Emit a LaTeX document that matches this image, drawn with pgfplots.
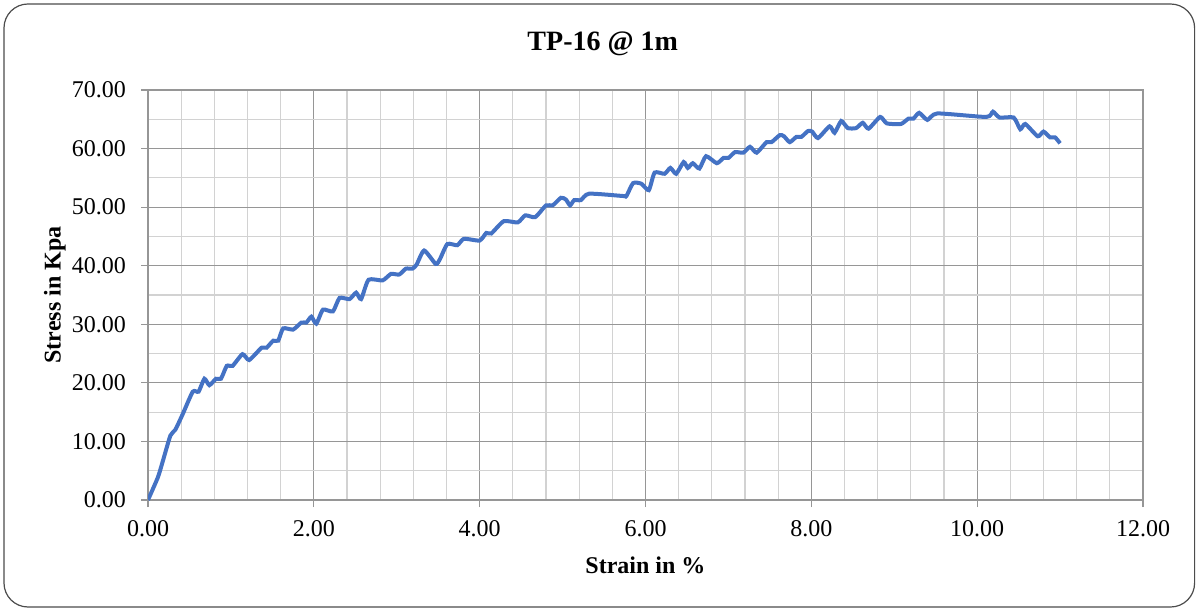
\documentclass[border=0pt]{standalone}
\usepackage{fontspec}
\setmainfont{Liberation Serif}
\usepackage{pgfplots}
\pgfplotsset{compat=1.18}
\definecolor{xlblue}{RGB}{68,114,196}
\definecolor{majgrid}{RGB}{150,150,150}
\definecolor{mingrid}{RGB}{210,210,210}
\begin{document}
\begin{tikzpicture}[x=1pt,y=1pt]
\useasboundingbox (0,0) rectangle (598.5,305);
\draw[black!70, line width=0.6pt, rounded corners=12pt] (2,1.5) rectangle (597.3,303);
\begin{axis}[
    at={(74pt,55pt)}, anchor=south west,
    scale only axis, width=497.5pt, height=205pt,
    xmin=0, xmax=12, ymin=0, ymax=70,
    xtick distance=2, ytick distance=10,
    minor x tick num=4, minor y tick num=1,
    grid=both,
    major grid style={draw=majgrid, line width=0.6pt},
    minor grid style={draw=mingrid, line width=0.6pt},
    axis line style={draw=majgrid, line width=0.6pt},
    tick pos=left,
    tick align=outside, major tick length=3.5pt, minor tick length=0pt,
    tick style={draw=majgrid, line width=0.6pt},
    tick label style={font=\fontsize{12}{14}\selectfont},
    xticklabel style={yshift=-3pt},
    yticklabel style={xshift=-4pt},
    /pgf/number format/.cd, fixed, fixed zerofill, precision=2, assume math mode=true,
    /pgfplots/.cd,
    title={\textbf{TP-16 @ 1m}},
    title style={font=\fontsize{14}{16}\selectfont, at={(axis description cs:0.457,1.083)}, anchor=center},
    xlabel={\textbf{Strain in \%}},
    xlabel style={font=\fontsize{12}{14}\selectfont, at={(axis description cs:0.5,-0.1585)}, anchor=center},
    ylabel={\textbf{Stress in Kpa}},
    ylabel style={font=\fontsize{12}{14}\selectfont, at={(axis description cs:-0.0935,0.5)}, anchor=center},
]
\addplot[color=xlblue, line width=2pt, smooth, tension=0.35] coordinates {
(0,0) (0.12,3.9) (0.18,6.7) (0.27,11.0) (0.33,12.0) (0.42,14.7) (0.54,18.5)
(0.61,18.5) (0.68,20.7) (0.74,19.6) (0.82,20.7) (0.88,20.7) (0.95,22.9)
(1.02,22.9) (1.14,24.9) (1.22,23.9) (1.37,26.0) (1.43,26.0) (1.51,27.2)
(1.57,27.2) (1.63,29.3) (1.75,29.1) (1.85,30.3) (1.91,30.3) (1.97,31.3)
(2.03,30.1) (2.11,32.5) (2.23,32.2) (2.31,34.5) (2.43,34.3) (2.51,35.4)
(2.57,34.3) (2.66,37.6) (2.83,37.5) (2.93,38.6) (3.03,38.5) (3.11,39.5)
(3.19,39.5) (3.24,40.2) (3.33,42.6) (3.47,40.3) (3.52,41.1) (3.61,43.7)
(3.73,43.5) (3.81,44.6) (4.00,44.3) (4.08,45.6) (4.14,45.5) (4.29,47.6)
(4.46,47.4) (4.55,48.6) (4.67,48.3) (4.80,50.3) (4.88,50.3) (4.98,51.6)
(5.04,51.3) (5.09,50.3) (5.14,51.2) (5.22,51.2) (5.32,52.3) (5.73,51.9)
(5.77,51.9) (5.85,54.1) (5.95,54.0) (6.04,52.9) (6.11,55.9) (6.23,55.7)
(6.30,56.7) (6.37,55.7) (6.46,57.7) (6.51,56.7) (6.57,57.5) (6.65,56.6)
(6.73,58.7) (6.86,57.5) (6.94,58.4) (7.00,58.4) (7.08,59.4) (7.18,59.3)
(7.26,60.3) (7.34,59.3) (7.46,61.1) (7.52,61.1) (7.62,62.3) (7.67,62.1)
(7.74,61.1) (7.82,62.0) (7.88,62.0) (7.96,63.0) (8.01,62.9) (8.08,61.8)
(8.22,63.8) (8.28,62.7) (8.36,64.7) (8.44,63.5) (8.54,63.5) (8.62,64.4)
(8.69,63.4) (8.83,65.4) (8.91,64.3) (9.08,64.2) (9.17,65.1) (9.23,65.1)
(9.30,66.1) (9.40,64.9) (9.52,66.0) (10.11,65.4) (10.19,66.3) (10.27,65.3)
(10.44,65.3) (10.52,63.3) (10.58,64.2) (10.73,62.1) (10.80,62.9) (10.88,61.9)
(10.94,61.9) (11.00,60.9)
};
\end{axis}
\end{tikzpicture}
\end{document}
